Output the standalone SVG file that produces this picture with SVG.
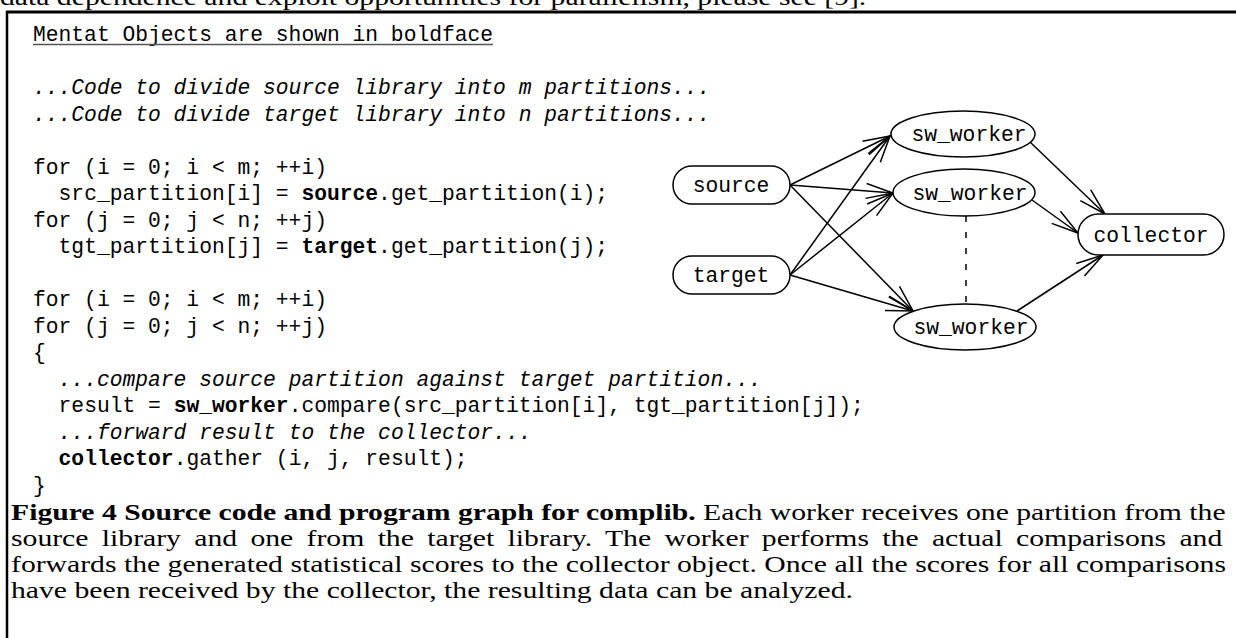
<svg xmlns="http://www.w3.org/2000/svg" width="1236" height="638" viewBox="0 0 1236 638">
<style>
.code{font-family:"Liberation Mono","Courier New",monospace;font-size:21.3px;fill:#000}
.it{font-style:italic}
.b{font-weight:bold}
.cap{font-family:"Liberation Serif","Times New Roman",serif;font-size:23.5px;fill:#000}
.node{fill:#fff;stroke:#000;stroke-width:1.5}
.lbl{font-family:"Liberation Mono","Courier New",monospace;font-size:21.3px;fill:#000;text-anchor:middle}
.edge{fill:none;stroke:#000;stroke-width:1.5}
</style>
<defs>
<marker id="ah" markerUnits="userSpaceOnUse" orient="auto" refX="0" refY="0" markerWidth="32" markerHeight="20" viewBox="-30 -10 32 20" overflow="visible">
<path d="M-27,-7.5 L0,0 L-27,7.5" fill="none" stroke="#000" stroke-width="1.5"/>
</marker>
</defs>
<rect width="1236" height="638" fill="#fff"/>
<g transform="scale(1.2638,1)">
<text class="cap" x="0" y="5">data dependence and exploit opportunities for parallelism, please see [9].</text>
</g>
<g id="frame" stroke="#000" fill="none">
<line x1="6" y1="12" x2="1236" y2="12" stroke-width="3"/>
<line x1="7" y1="11" x2="7" y2="638" stroke-width="2.5"/>
</g>
<g id="code">
<text class="code" x="33" y="41">Mentat Objects are shown in boldface</text>
<line x1="33" y1="44.5" x2="493" y2="44.5" stroke="#555" stroke-width="1.5"/>
<text class="code it" x="33" y="94">...Code to divide source library into m partitions...</text>
<text class="code it" x="33" y="120.5">...Code to divide target library into n partitions...</text>
<text class="code" x="33" y="173.5">for (i = 0; i &lt; m; ++i)</text>
<text class="code" x="58.6" y="200">src_partition[i] = <tspan class="b">source</tspan>.get_partition(i);</text>
<text class="code" x="33" y="226.5">for (j = 0; j &lt; n; ++j)</text>
<text class="code" x="58.6" y="253">tgt_partition[j] = <tspan class="b">target</tspan>.get_partition(j);</text>
<text class="code" x="33" y="306">for (i = 0; i &lt; m; ++i)</text>
<text class="code" x="33" y="332.5">for (j = 0; j &lt; n; ++j)</text>
<text class="code" x="33" y="359">{</text>
<text class="code it" x="58.6" y="385.5">...compare source partition against target partition...</text>
<text class="code" x="58.6" y="412">result = <tspan class="b">sw_worker</tspan>.compare(src_partition[i], tgt_partition[j]);</text>
<text class="code it" x="58.6" y="438.5">...forward result to the collector...</text>
<text class="code" x="58.6" y="465"><tspan class="b">collector</tspan>.gather (i, j, result);</text>
<text class="code" x="33" y="491.5">}</text>
</g>
<g id="connectors">
<line class="edge" x1="790" y1="185" x2="890" y2="136" marker-end="url(#ah)"/>
<line class="edge" x1="790" y1="185" x2="893" y2="193" marker-end="url(#ah)"/>
<line class="edge" x1="790" y1="185" x2="913" y2="311" marker-end="url(#ah)"/>
<line class="edge" x1="790" y1="275" x2="890" y2="136" marker-end="url(#ah)"/>
<line class="edge" x1="790" y1="275" x2="893" y2="193" marker-end="url(#ah)"/>
<line class="edge" x1="790" y1="275" x2="913" y2="311" marker-end="url(#ah)"/>
<line class="edge" x1="1030" y1="142" x2="1105" y2="214" marker-end="url(#ah)"/>
<line class="edge" x1="1032" y1="200" x2="1078" y2="233" marker-end="url(#ah)"/>
<line class="edge" x1="1017" y1="311" x2="1103" y2="255" marker-end="url(#ah)"/>
<line class="edge" x1="966" y1="216" x2="966" y2="304" stroke-dasharray="6 10"/>
</g>
<g id="source">
<rect class="node" x="673" y="166" width="117" height="38" rx="19"/>
<text class="lbl" x="731" y="192">source</text>
</g>
<g id="target">
<rect class="node" x="673" y="256" width="117" height="38" rx="19"/>
<text class="lbl" x="731" y="282">target</text>
</g>
<g id="sw_worker1">
<ellipse class="node" cx="963" cy="134" rx="72" ry="23"/>
<text class="lbl" x="969" y="141">sw_worker</text>
</g>
<g id="sw_worker2">
<ellipse class="node" cx="964" cy="192.5" rx="71" ry="23.5"/>
<text class="lbl" x="970" y="199.5">sw_worker</text>
</g>
<g id="sw_worker3">
<ellipse class="node" cx="965" cy="327" rx="71" ry="23"/>
<text class="lbl" x="971" y="334">sw_worker</text>
</g>
<g id="collector">
<rect class="node" x="1078" y="214" width="146" height="41" rx="20.5"/>
<text class="lbl" x="1151" y="241.5">collector</text>
</g>
<g id="caption" transform="translate(11,0) scale(1.2638,1)">
<text class="cap" x="0" y="520"><tspan class="b">Figure 4 Source code and program graph for complib.</tspan> Each worker receives one partition from the</text>
<text class="cap" x="0" y="546" word-spacing="4.67">source library and one from the target library. The worker performs the actual comparisons and</text>
<text class="cap" x="0" y="572">forwards the generated statistical scores to the collector object. Once all the scores for all comparisons</text>
<text class="cap" x="0" y="598">have been received by the collector, the resulting data can be analyzed.</text>
</g>
</svg>
